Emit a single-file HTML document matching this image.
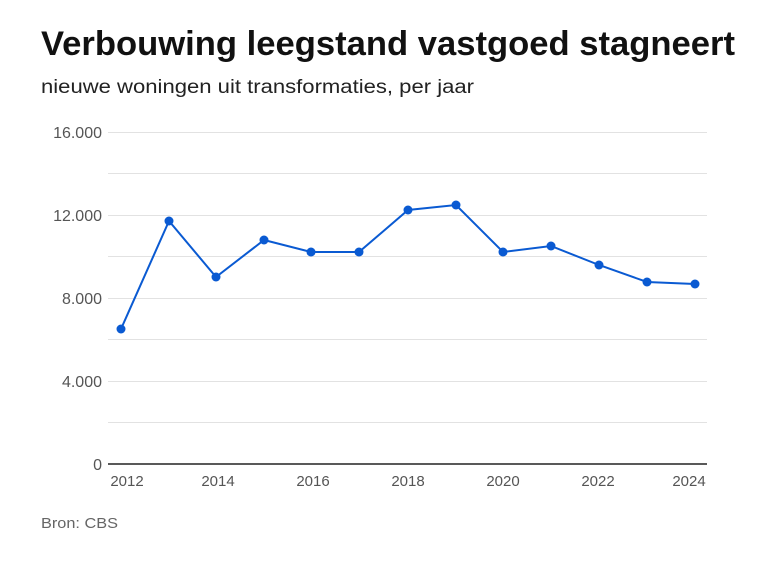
<!DOCTYPE html>
<html><head><meta charset="utf-8"><style>
body{margin:0;width:768px;height:576px;background:#fff;font-family:"Liberation Sans",sans-serif;overflow:hidden}
</style></head><body>
<svg width="768" height="576" xmlns="http://www.w3.org/2000/svg" font-family="Liberation Sans, sans-serif">
<text x="41" y="55" font-size="34" font-weight="bold" fill="#111" textLength="694" lengthAdjust="spacingAndGlyphs">Verbouwing leegstand vastgoed stagneert</text>
<text x="41" y="93" font-size="19" fill="#222" textLength="433" lengthAdjust="spacingAndGlyphs">nieuwe woningen uit transformaties, per jaar</text>
<g stroke="#e2e2e2" stroke-width="1">
<line x1="108" x2="707" y1="132.5" y2="132.5"/><line x1="108" x2="707" y1="173.5" y2="173.5"/>
<line x1="108" x2="707" y1="215.5" y2="215.5"/><line x1="108" x2="707" y1="256.5" y2="256.5"/>
<line x1="108" x2="707" y1="298.5" y2="298.5"/><line x1="108" x2="707" y1="339.5" y2="339.5"/>
<line x1="108" x2="707" y1="381.5" y2="381.5"/><line x1="108" x2="707" y1="422.5" y2="422.5"/>
</g>
<line x1="108" x2="707" y1="464" y2="464" stroke="#222" stroke-width="1.5"/>
<g font-size="16" fill="#555" text-anchor="end">
<text x="102" y="138">16.000</text><text x="102" y="221">12.000</text><text x="102" y="304">8.000</text><text x="102" y="387">4.000</text><text x="102" y="470">0</text>
</g>
<g font-size="15" fill="#555" text-anchor="middle">
<text x="127" y="486">2012</text><text x="218" y="486">2014</text><text x="313" y="486">2016</text><text x="408" y="486">2018</text><text x="503" y="486">2020</text><text x="598" y="486">2022</text><text x="689" y="486">2024</text>
</g>
<polyline fill="none" stroke="#0a5ad2" stroke-width="2" points="121,329 169,221 216,277 264,240 311,252 359,252 408,210 456,205 503,252 551,246 599,265 647,282 695,284"/>
<g fill="#0a5ad2">
<circle cx="121" cy="329" r="4.5"/><circle cx="169" cy="221" r="4.5"/><circle cx="216" cy="277" r="4.5"/><circle cx="264" cy="240" r="4.5"/><circle cx="311" cy="252" r="4.5"/><circle cx="359" cy="252" r="4.5"/><circle cx="408" cy="210" r="4.5"/><circle cx="456" cy="205" r="4.5"/><circle cx="503" cy="252" r="4.5"/><circle cx="551" cy="246" r="4.5"/><circle cx="599" cy="265" r="4.5"/><circle cx="647" cy="282" r="4.5"/><circle cx="695" cy="284" r="4.5"/>
</g>
<text x="41" y="528" font-size="15" fill="#666" textLength="77" lengthAdjust="spacingAndGlyphs">Bron: CBS</text>
</svg>
</body></html>
